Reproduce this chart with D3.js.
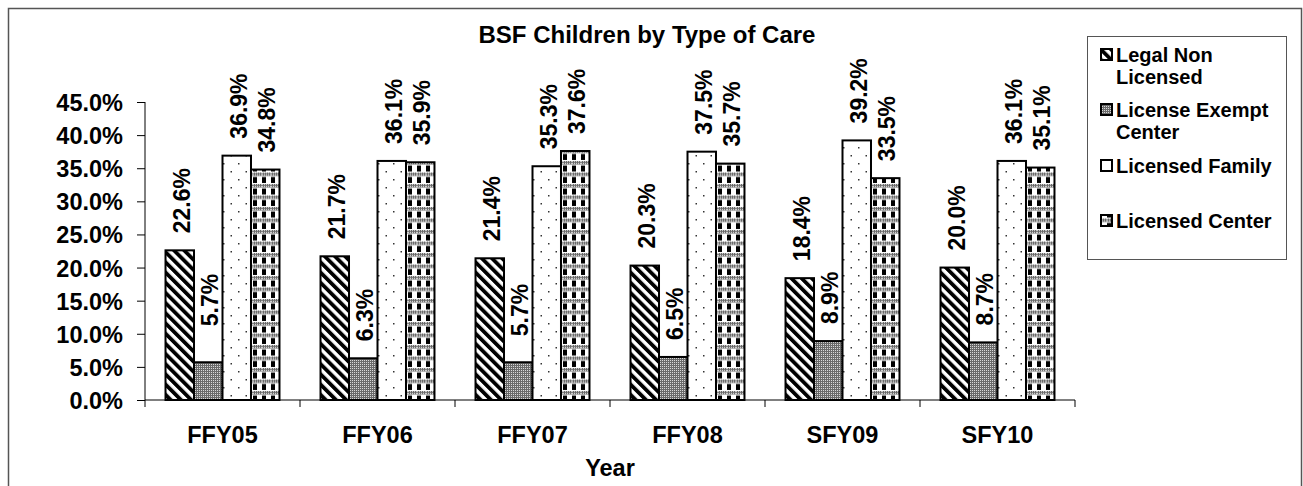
<!DOCTYPE html>
<html>
<head>
<meta charset="utf-8">
<script src="https://cdn.jsdelivr.net/npm/d3@7"></script>
<style>
  body { margin: 0; background: #fff; }
  text { font-family: "Liberation Sans", Arial, sans-serif; font-weight: bold; fill: #000; }
</style>
</head>
<body>
<div id="chart"></div>
<script>
var years = ["FFY05", "FFY06", "FFY07", "FFY08", "SFY09", "SFY10"];
var seriesNames = ["Legal Non Licensed", "License Exempt Center", "Licensed Family", "Licensed Center"];
var legalNonLicensed = [22.6, 21.7, 21.4, 20.3, 18.4, 20.0];
var licenseExemptCenter = [5.7, 6.3, 5.7, 6.5, 8.9, 8.7];
var licensedFamily = [36.9, 36.1, 35.3, 37.5, 39.2, 36.1];
var licensedCenter = [34.8, 35.9, 37.6, 35.7, 33.5, 35.1];
var yTicks = [0, 5, 10, 15, 20, 25, 30, 35, 40, 45];
// legend text, split the way the box wraps it
var legendLines = [["Legal Non", "Licensed"], ["License Exempt", "Center"], ["Licensed Family"], ["Licensed Center"]];

var allSeries = [legalNonLicensed, licenseExemptCenter, licensedFamily, licensedCenter];
var patIds = ["pStripe", "pGray", "pDots", "pCheck"];

var svg = d3.select("#chart").append("svg")
  .attr("width", 1303).attr("height", 486);

var defs = svg.append("defs");

// diagonal stripes
var ps = defs.append("pattern").attr("id", "pStripe")
  .attr("patternUnits", "userSpaceOnUse")
  .attr("width", 7.2).attr("height", 7.2)
  .attr("patternTransform", "rotate(-45)");
ps.append("rect").attr("width", 7.2).attr("height", 7.2).attr("fill", "#fff");
ps.append("rect").attr("width", 3.8).attr("height", 7.2).attr("fill", "#000");

// fine gray dither
var pg = defs.append("pattern").attr("id", "pGray")
  .attr("patternUnits", "userSpaceOnUse")
  .attr("width", 2).attr("height", 2);
pg.append("rect").attr("width", 2).attr("height", 2).attr("fill", "#6a6a6a");
pg.append("rect").attr("width", 1).attr("height", 1).attr("fill", "#d8d8d8");

// sparse dots
var pd = defs.append("pattern").attr("id", "pDots")
  .attr("patternUnits", "userSpaceOnUse")
  .attr("width", 15).attr("height", 16);
pd.append("rect").attr("width", 15).attr("height", 16).attr("fill", "#fff");
pd.append("rect").attr("x", 3).attr("y", 3).attr("width", 1.5).attr("height", 1.5).attr("fill", "#333");
pd.append("rect").attr("x", 10.5).attr("y", 11).attr("width", 1.5).attr("height", 1.5).attr("fill", "#333");

// checker with gray bands
var pc = defs.append("pattern").attr("id", "pCheck")
  .attr("patternUnits", "userSpaceOnUse")
  .attr("width", 9).attr("height", 11.5);
pc.append("rect").attr("width", 9).attr("height", 11.5).attr("fill", "#fff");
pc.append("rect").attr("width", 9).attr("height", 3.5).attr("fill", "url(#pGray)");
pc.append("rect").attr("x", 0).attr("y", 4.5).attr("width", 4).attr("height", 6).attr("fill", "#000");

// outer chart frame
svg.append("rect")
  .attr("x", 8.5).attr("y", 8.5).attr("width", 1293).attr("height", 495)
  .attr("fill", "none").attr("stroke", "#555").attr("stroke-width", 1.5);

var y = d3.scaleLinear().domain([0, 45]).range([400, 102]);
var x0 = d3.scaleBand().domain(years).range([145, 1075]).padding(0);
var x1 = d3.scaleBand().domain(d3.range(4)).range([0, x0.bandwidth()])
  .paddingInner(0).paddingOuter(0.72);

// y axis
var yAxis = svg.append("g")
  .attr("transform", "translate(145,0)")
  .call(d3.axisLeft(y).tickValues(yTicks).tickSize(8).tickPadding(14)
    .tickFormat(function(d) { return d.toFixed(1) + "%"; }));
yAxis.selectAll("text").style("font-size", "23.5px").attr("dy", "0.36em");
yAxis.selectAll("line").attr("stroke", "#000");
yAxis.select(".domain").attr("stroke", "#000").attr("d", "M0,102V400");

// x axis
var xAxis = svg.append("g").attr("transform", "translate(0,400)");
xAxis.append("line").attr("x1", 145).attr("x2", 1075).attr("stroke", "#000");
xAxis.selectAll(".tk").data(d3.range(years.length + 1)).enter().append("line")
  .attr("x1", function(i) { return 145 + i * x0.step(); })
  .attr("x2", function(i) { return 145 + i * x0.step(); })
  .attr("y1", 0).attr("y2", 7).attr("stroke", "#000");
xAxis.selectAll(".lbl").data(years).enter().append("text")
  .attr("x", function(d) { return x0(d) + x0.bandwidth() / 2; })
  .attr("y", 43).attr("text-anchor", "middle")
  .style("font-size", "23.5px")
  .text(function(d) { return d; });

// bars
var groups = svg.selectAll(".grp").data(years).enter().append("g")
  .attr("transform", function(d) { return "translate(" + x0(d) + ",0)"; });

groups.selectAll("rect").data(function(d, i) {
    return allSeries.map(function(s, k) { return { k: k, v: s[i] }; });
  }).enter().append("rect")
  .attr("x", function(d) { return x1(d.k); })
  .attr("y", function(d) { return y(d.v); })
  .attr("width", x1.bandwidth())
  .attr("height", function(d) { return 400 - y(d.v); })
  .attr("fill", function(d) { return "url(#" + patIds[d.k] + ")"; })
  .attr("stroke", "#000").attr("stroke-width", 2);

// value labels, rotated
groups.selectAll("text").data(function(d, i) {
    return allSeries.map(function(s, k) { return { k: k, v: s[i], yi: i }; });
  }).enter().append("text")
  .attr("transform", function(d) {
    var lift = 17;
    if (d.k == 1 && d.yi == 0) lift = 36;
    if (d.k == 1 && d.yi == 2) lift = 26;
    return "translate(" + (x1(d.k) + x1.bandwidth() / 2 + 10) + "," + (y(d.v) - lift) + ") rotate(-90)";
  })
  .style("font-size", "23px")
  .text(function(d) { return d.v.toFixed(1) + "%"; });

// title
svg.append("text")
  .attr("x", 647).attr("y", 43).attr("text-anchor", "middle")
  .style("font-size", "24px")
  .text("BSF Children by Type of Care");

// axis title
svg.append("text")
  .attr("x", 610).attr("y", 476).attr("text-anchor", "middle")
  .style("font-size", "23.5px")
  .text("Year");

// legend
var legend = svg.append("g");
legend.append("rect")
  .attr("x", 1087.5).attr("y", 36.5).attr("width", 199).attr("height", 223)
  .attr("fill", "#fff").attr("stroke", "#555").attr("stroke-width", 1);

var legendY = [62, 117, 173, 228];
seriesNames.forEach(function(name, k) {
  legend.append("rect")
    .attr("x", 1101).attr("y", legendY[k] - 13)
    .attr("width", 11).attr("height", 11)
    .attr("fill", "url(#" + patIds[k] + ")")
    .attr("stroke", "#000").attr("stroke-width", 2);
  legend.append("text")
    .attr("x", 1116).attr("y", legendY[k])
    .style("font-size", "20px")
    .selectAll("tspan").data(legendLines[k]).enter().append("tspan")
    .attr("x", 1116)
    .attr("dy", function(d, i) { return i == 0 ? 0 : 22; })
    .text(function(d) { return d; });
});
</script>
</body>
</html>
